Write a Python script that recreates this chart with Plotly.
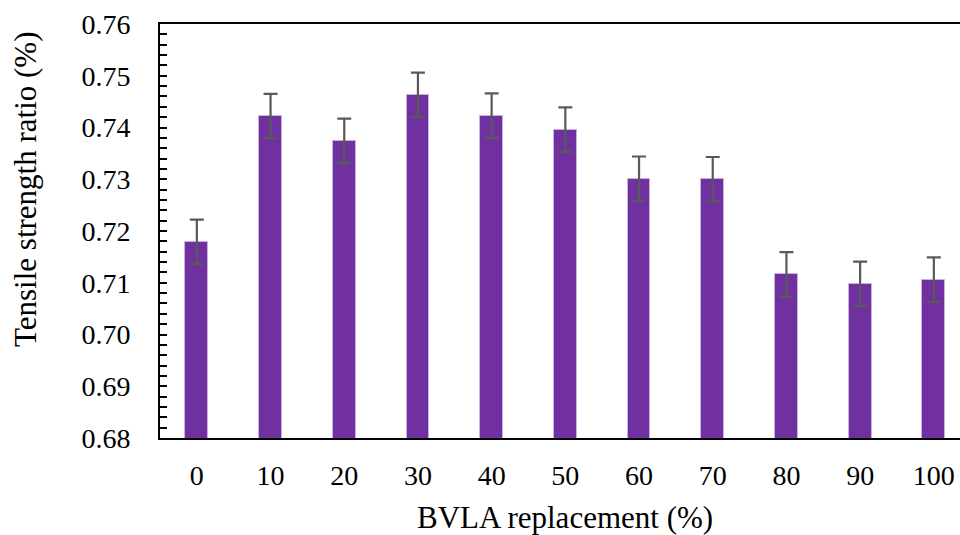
import plotly.graph_objects as go

categories = ["0", "10", "20", "30", "40", "50", "60", "70", "80", "90", "100"]
ratio = [0.7179, 0.7422, 0.7374, 0.7463, 0.7423, 0.7396, 0.7301, 0.7300, 0.7116, 0.7098, 0.7106]
err = [0.0043, 0.0043, 0.0043, 0.0043, 0.0043, 0.0043, 0.0043, 0.0043, 0.0043, 0.0043, 0.0043]
x_title = "BVLA replacement (%)"
y_title = "Tensile strength ratio (%)"

FONT = "Liberation Serif"

fig = go.Figure()
fig.add_trace(go.Bar(
    x=categories, y=ratio, width=0.31,
    marker=dict(color="#7030A0", line=dict(color="#C9B2DD", width=1)),
    error_y=dict(type="data", array=err, visible=True, color="#595959",
                 thickness=2.2, width=7),
))

fig.update_layout(
    width=960, height=535,
    margin=dict(l=160, r=0, t=24, b=97),
    paper_bgcolor="white", plot_bgcolor="white",
    showlegend=False,
    font=dict(family=FONT, size=28, color="black"),
    bargap=0,
)
fig.update_xaxes(
    type="category", range=[-0.5, 10.355],
    showline=True, linecolor="black", linewidth=2, mirror=True,
    ticks="", showgrid=False,
    tickfont=dict(family=FONT, size=28),
    ticklabelstandoff=11,
)
fig.update_yaxes(
    range=[0.68, 0.76], dtick=0.01, tickformat=".2f",
    showline=True, linecolor="black", linewidth=2,
    ticks="inside", ticklen=7, tickwidth=2, tickcolor="black",
    minor=dict(dtick=0.002, ticks="inside", ticklen=7, tickwidth=2, tickcolor="black", showgrid=False),
    showgrid=False, zeroline=False,
    tickfont=dict(family=FONT, size=28),
    ticklabelstandoff=22,
)
# axis titles placed as annotations (reference places y-title above centre)
fig.add_annotation(text=y_title, textangle=-90, xref="paper", yref="paper",
                   x=0, y=(438 - 190) / 414, xshift=-135, xanchor="center", yanchor="middle",
                   showarrow=False, font=dict(family=FONT, size=31, color="black"))
fig.add_annotation(text=x_title, xref="paper", yref="paper",
                   x=0.5, y=0, xshift=5, yshift=-79, xanchor="center", yanchor="middle",
                   showarrow=False, font=dict(family=FONT, size=31, color="black"))

fig.write_html("out.html")
